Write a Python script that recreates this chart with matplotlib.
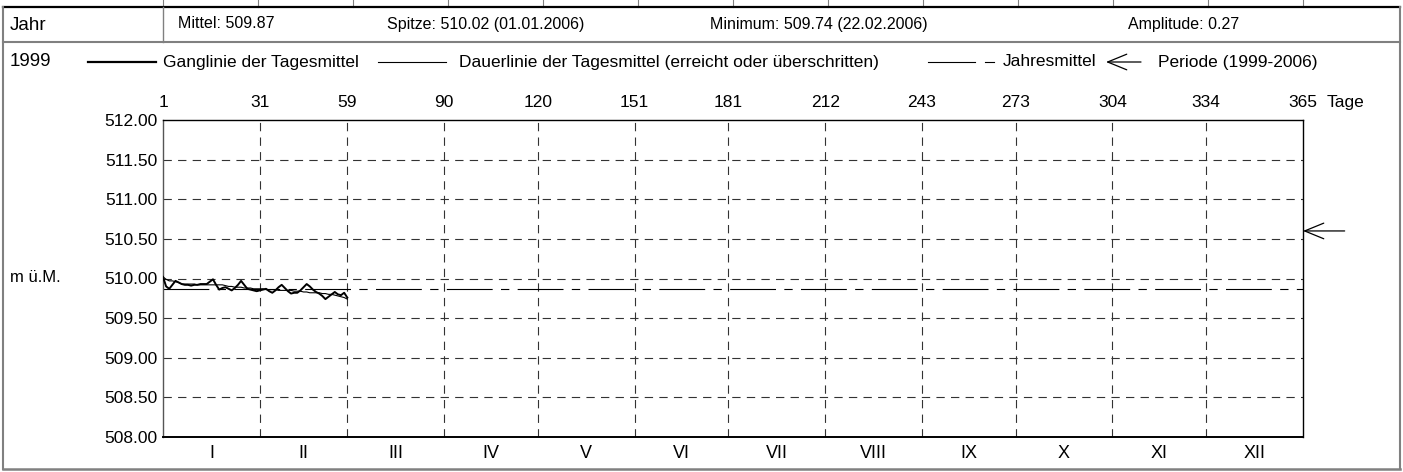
import numpy as np
import matplotlib.pyplot as plt

plt.rcParams['font.family'] = ['Liberation Sans', 'DejaVu Sans']
plt.rcParams['font.size'] = 12.5
plt.rcParams['lines.scale_dashes'] = False

# daily means 1999 (days 1..60)
gang = [510.02, 509.90, 509.87, 509.92, 509.97, 509.95, 509.93, 509.92, 509.92, 509.91,
        509.92, 509.92, 509.93, 509.93, 509.93, 509.96, 509.99, 509.92, 509.86, 509.88,
        509.89, 509.87, 509.85, 509.88, 509.92, 509.97, 509.92, 509.87, 509.86, 509.85,
        509.84, 509.85, 509.86, 509.87, 509.84, 509.82, 509.85, 509.89, 509.92, 509.88,
        509.84, 509.81, 509.82, 509.82, 509.85, 509.89, 509.93, 509.90, 509.86, 509.83,
        509.81, 509.78, 509.74, 509.77, 509.80, 509.83, 509.80, 509.79, 509.82, 509.76]
days = np.arange(len(gang))
# duration curve = daily means sorted (reached or exceeded)
dauer = np.sort(gang)[::-1]

jahresmittel = 509.87
periode = 510.60

day_ticks = [0, 31, 59, 90, 120, 151, 181, 212, 243, 273, 304, 334, 365]
day_labels = ['1', '31', '59', '90', '120', '151', '181', '212', '243', '273', '304', '334', '365']
months = ['I', 'II', 'III', 'IV', 'V', 'VI', 'VII', 'VIII', 'IX', 'X', 'XI', 'XII']
y_ticks = [508.0, 508.5, 509.0, 509.5, 510.0, 510.5, 511.0, 511.5, 512.0]

header = ['Mittel: 509.87', 'Spitze: 510.02 (01.01.2006)',
          'Minimum: 509.74 (22.02.2006)', 'Amplitude: 0.27']

W, H = 1403, 472
fig = plt.figure(figsize=(W / 100, H / 100), dpi=100)

# background layer in pixel coordinates: frame, header, legend
bg = fig.add_axes([0, 0, 1, 1])
bg.set_xlim(0, W)
bg.set_ylim(H, 0)
bg.axis('off')

gray = '#808080'
# top partial row of the table
for x in [163, 258, 353, 448, 543, 638, 733, 828, 923, 1018, 1113, 1208, 1303]:
    bg.plot([x, x], [0, 7], color=gray, lw=0.8)
bg.plot([3, 1400], [7, 7], color='black', lw=1.6)
# outer frame
bg.plot([3, 3], [7, 469], color=gray, lw=1.5)
bg.plot([1400, 1400], [7, 469], color=gray, lw=1.5)
bg.plot([3, 1400], [469, 469], color=gray, lw=1.8)
bg.plot([3, 1400], [42, 42], color=gray, lw=1.5)
bg.plot([163, 163], [7, 42], color=gray, lw=1)

bg.text(10, 25, 'Jahr', fontsize=13.5, va='center')
for x, s in zip([178, 387, 710, 1128], header):
    bg.text(x, 24, s, fontsize=11.5, va='center')

# legend row
ly = 62
bg.text(10, ly, '1999', fontsize=13.5, va='center')
bg.plot([88, 156], [ly, ly], color='black', lw=1.6)
bg.text(163, ly, 'Ganglinie der Tagesmittel', va='center')
bg.plot([378, 446], [ly, ly], color='black', lw=0.8)
bg.text(459, ly, 'Dauerlinie der Tagesmittel (erreicht oder überschritten)', va='center')
bg.plot([928, 975], [ly, ly], color='black', lw=0.8)
bg.plot([985, 994], [ly, ly], color='black', lw=0.8)
bg.text(1003, ly, 'Jahresmittel', va='center')
bg.annotate('', xy=(1106, ly), xytext=(1141, ly),
            arrowprops=dict(arrowstyle='->,head_length=1.1,head_width=0.45', lw=0.9, color='black',
                            shrinkA=0, shrinkB=0))
bg.text(1158, ly, 'Periode (1999-2006)', va='center')
bg.text(10, 278, 'm ü.M.', fontsize=12, va='center')

# main plot
left, right, top, bottom = 163, 1303, 120, 437
ax = fig.add_axes([left / W, (H - bottom) / H, (right - left) / W, (bottom - top) / H])
ax.set_xlim(0, 365)
ax.set_ylim(508, 512)

grid_kw = dict(color='#333333', lw=0.8, ls=(0, (6, 4.5)))
for y in y_ticks[1:-1]:
    ax.axhline(y, **grid_kw, zorder=1)
for x in day_ticks[1:-1]:
    ax.axvline(x, **grid_kw, zorder=1)

ax.axhline(jahresmittel, color='black', lw=0.8, ls=(0, (33, 6, 6, 6)), zorder=2)
ax.plot(days, dauer, color='black', lw=0.8, zorder=3)
ax.plot(days, gang, color='black', lw=1.4, zorder=4)

ax.annotate('', xy=(365, periode), xytext=(30, 0), textcoords='offset points',
            annotation_clip=False,
            arrowprops=dict(arrowstyle='->,head_length=1.1,head_width=0.45', lw=0.9, color='black',
                            shrinkA=0, shrinkB=0))

ax.set_yticks(y_ticks)
ax.set_yticklabels(['%.2f' % v for v in y_ticks])
ax.xaxis.tick_top()
ax.set_xticks(day_ticks)
ax.set_xticklabels(day_labels)
ax.tick_params(length=0, pad=4, labelsize=12.5)
ax.tick_params(axis='x', pad=7)
ax.annotate('Tage', xy=(1, 1), xycoords='axes fraction', xytext=(17, 9.5),
            textcoords='offset points', ha='left', va='baseline')

for i, m in enumerate(months):
    c = (day_ticks[i] + day_ticks[i + 1]) / 2
    ax.text(c, -16 / (bottom - top), m, transform=ax.get_xaxis_transform(),
            ha='center', va='center', fontsize=13)

for sp in ax.spines.values():
    sp.set_color('black')
    sp.set_linewidth(1.0)
ax.spines['bottom'].set_linewidth(1.4)
ax.spines['left'].set_color('#555555')

fig.savefig('out.png', dpi=100)
